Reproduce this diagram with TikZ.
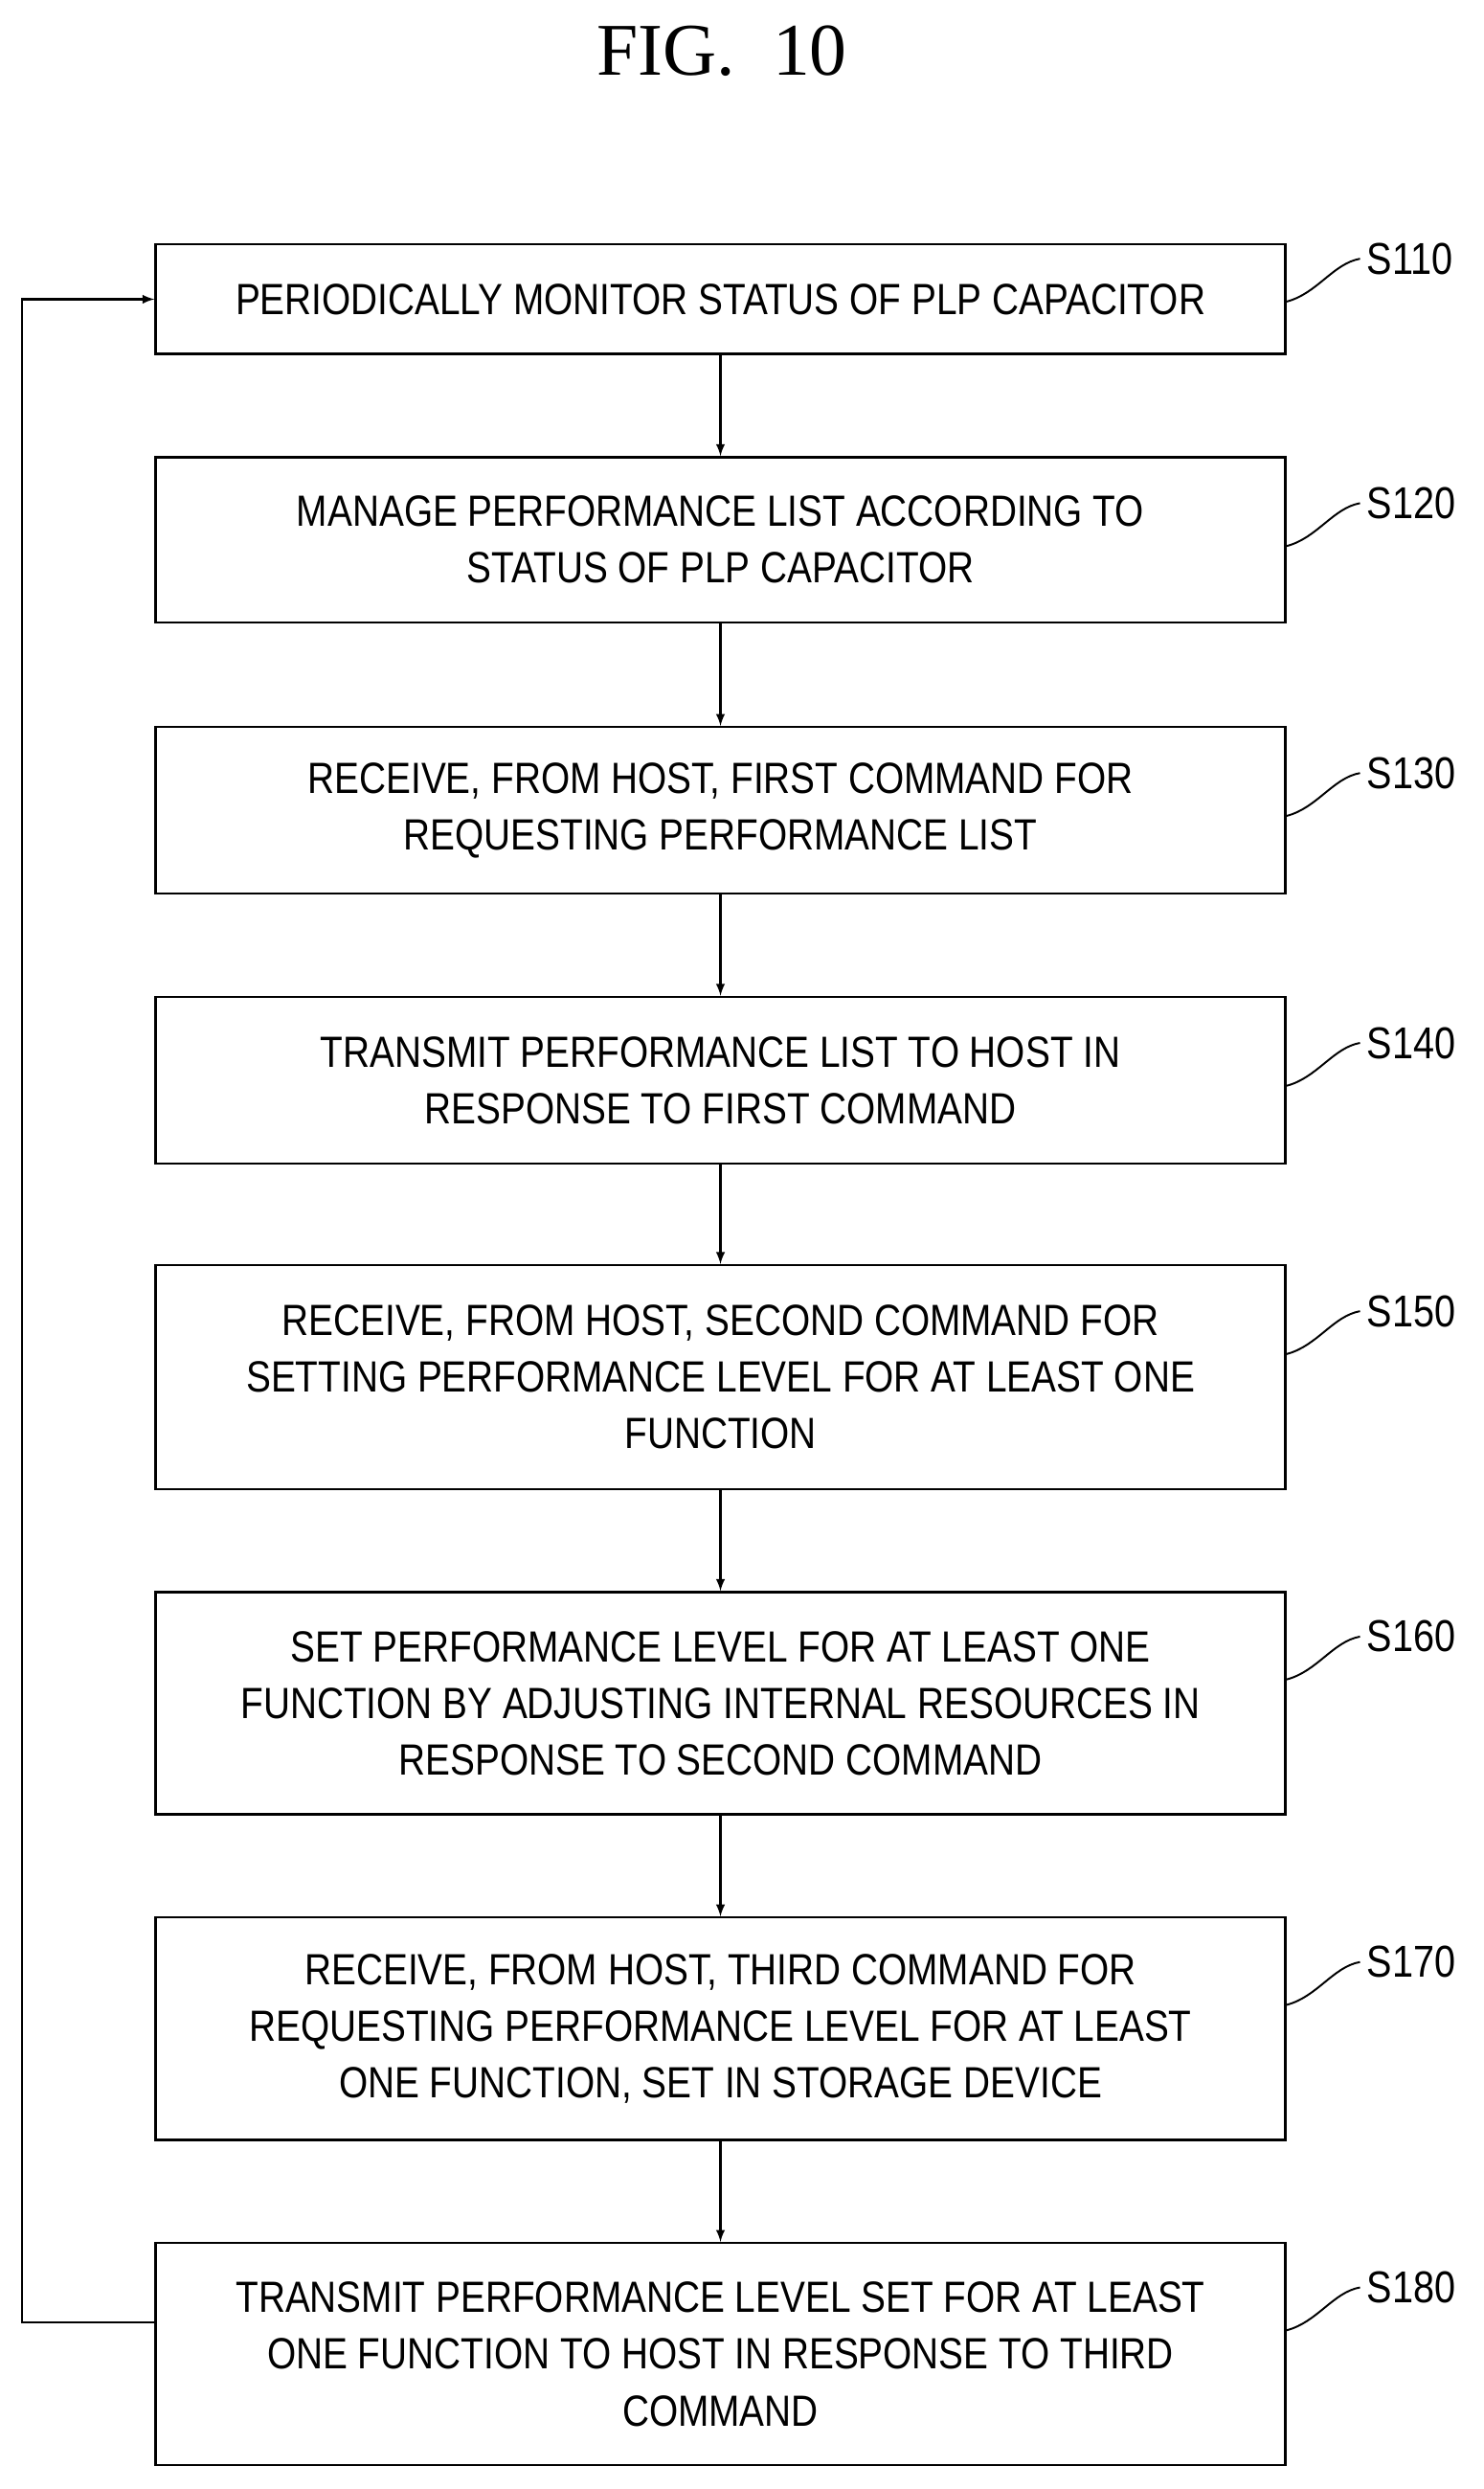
\documentclass[tikz,border=0pt]{standalone}
\usepackage{fontspec}
\setmainfont{Liberation Sans}[FakeStretch=0.85]
\newfontfamily\titlefont{Liberation Serif}
\begin{document}
\begin{tikzpicture}[x=0.03cm, y=-0.03cm, thick,
    stepbox/.style={draw, line width=1.2pt, minimum width=712*0.03cm, align=center,
                 font=\fontsize{23.5}{30.5}\selectfont, inner sep=0pt},
    lab/.style={font=\fontsize{24}{28}\selectfont, anchor=west},
    arr/.style={->, >=latex, line width=1.2pt}]
    \useasboundingbox (0,0) rectangle (935,1568);
    \node[font=\titlefont\fontsize{40}{44}\selectfont] (title) at (455,32) {FIG.\ \ 10};

    % steps
    \node[stepbox, minimum height=69*0.03cm] (s110) at (454,188.5) {PERIODICALLY MONITOR STATUS OF PLP CAPACITOR};
    \node[stepbox, minimum height=104*0.03cm] (s120) at (454,340) {MANAGE PERFORMANCE LIST ACCORDING TO\\STATUS OF PLP CAPACITOR};
    \node[stepbox, minimum height=105*0.03cm] (s130) at (454,510.5) {RECEIVE, FROM HOST, FIRST COMMAND FOR\\REQUESTING PERFORMANCE LIST};
    \node[stepbox, minimum height=105*0.03cm] (s140) at (454,680.5) {TRANSMIT PERFORMANCE LIST TO HOST IN\\RESPONSE TO FIRST COMMAND};
    \node[stepbox, minimum height=141*0.03cm] (s150) at (454,867.5) {RECEIVE, FROM HOST, SECOND COMMAND FOR\\SETTING PERFORMANCE LEVEL FOR AT LEAST ONE\\FUNCTION};
    \node[stepbox, minimum height=140*0.03cm] (s160) at (454,1073) {SET PERFORMANCE LEVEL FOR AT LEAST ONE\\FUNCTION BY ADJUSTING INTERNAL RESOURCES IN\\RESPONSE TO SECOND COMMAND};
    \node[stepbox, minimum height=140*0.03cm] (s170) at (454,1278) {RECEIVE, FROM HOST, THIRD COMMAND FOR\\REQUESTING PERFORMANCE LEVEL FOR AT LEAST\\ONE FUNCTION, SET IN STORAGE DEVICE};
    \node[stepbox, minimum height=140*0.03cm] (s180) at (454,1483) {TRANSMIT PERFORMANCE LEVEL SET FOR AT LEAST\\ONE FUNCTION TO HOST IN RESPONSE TO THIRD\\COMMAND};

    % step labels
    \foreach \s/\y in {110/163,120/317,130/487,140/657,150/826,160/1031,170/1236,180/1441} {
        \node[lab] (l\s) at (857,\y) {S\s};
        \draw[line width=1pt] (s\s.east |- 0,\y+27) .. controls (830,\y+22) and (840,\y+3) .. (l\s.west);
    }

    % flow
    \foreach \a/\b in {110/120,120/130,130/140,140/150,150/160,160/170,170/180}
        \draw[arr] (s\a) -- (s\b);
    \coordinate (back1) at (14,1463);
    \coordinate (back2) at (14,188.5);
    \draw[arr] (s180.west |- back1) -- (back1) -- (back2) -- (s110.west);
\end{tikzpicture}
\end{document}
